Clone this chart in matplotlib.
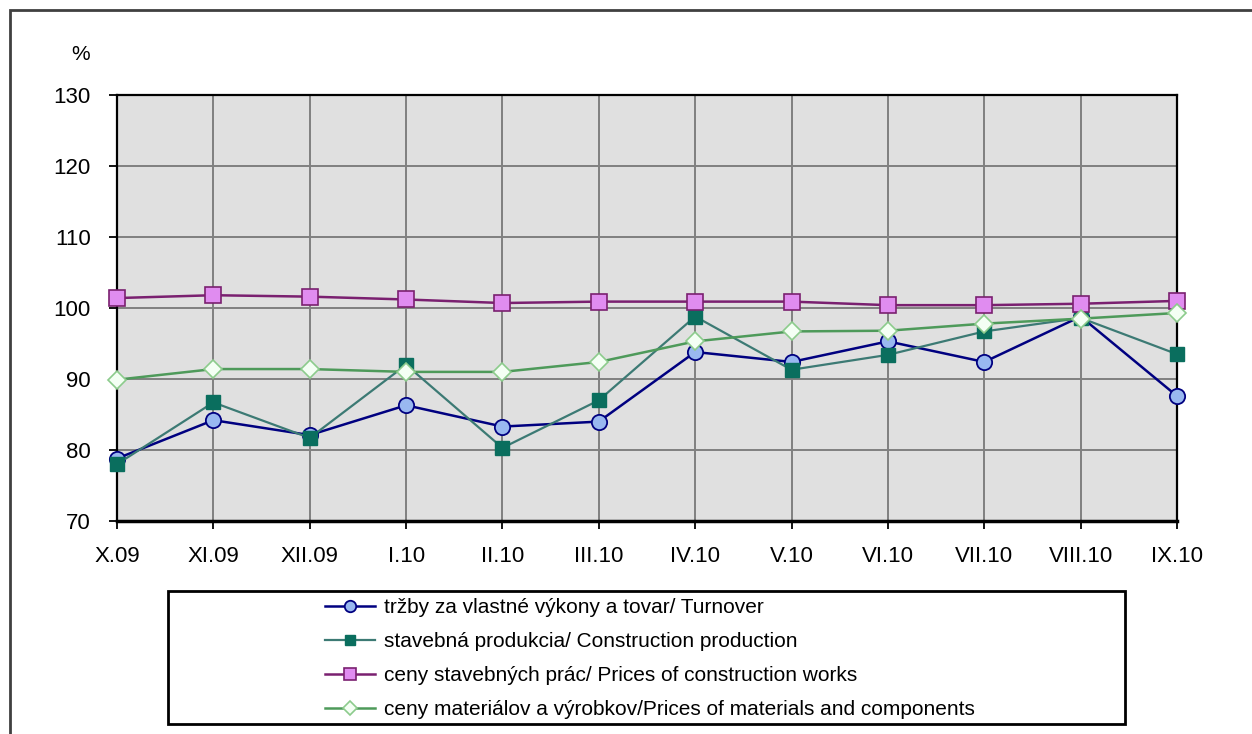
import matplotlib
matplotlib.use('Agg')
import matplotlib.pyplot as plt
from matplotlib.patches import Rectangle

plt.rcParams['font.family'] = ['Liberation Sans', 'DejaVu Sans']

# data
months = ['X.09', 'XI.09', 'XII.09', 'I.10', 'II.10', 'III.10',
          'IV.10', 'V.10', 'VI.10', 'VII.10', 'VIII.10', 'IX.10']
turnover = [78.8, 84.2, 82.1, 86.3, 83.3, 84.0, 93.8, 92.4, 95.3, 92.4, 98.8, 87.6]
construction = [78.0, 86.7, 81.7, 92.0, 80.3, 87.0, 98.8, 91.3, 93.4, 96.7, 98.6, 93.5]
prices_works = [101.4, 101.8, 101.6, 101.2, 100.7, 100.9, 100.9, 100.9, 100.4, 100.4, 100.6, 101.0]
prices_materials = [89.9, 91.4, 91.4, 91.0, 91.0, 92.4, 95.3, 96.7, 96.8, 97.8, 98.5, 99.3]

labels = ['tržby za vlastné výkony a tovar/ Turnover',
          'stavebná produkcia/ Construction production',
          'ceny stavebných prác/ Prices of construction works',
          'ceny materiálov a výrobkov/Prices of materials and components']

W, H = 1252, 734
fig = plt.figure(figsize=(W / 100, H / 100), dpi=100)

# outer chart frame (bottom and right run off the picture)
fig.patches.append(Rectangle((10 / W, -0.1), 1.2, 1.1 - 10 / H, transform=fig.transFigure,
                             fill=False, edgecolor='#404040', linewidth=2))

ax = fig.add_axes([117 / W, 1 - 521 / H, (1177 - 117) / W, (521 - 95) / H])
ax.set_facecolor('#E0E0E0')

x = list(range(len(months)))
ax.plot(x, turnover, color='#000080', lw=1.8, marker='o', ms=11,
        mfc='#99B8F0', mec='#000080', mew=1.3, clip_on=False, zorder=3, label=labels[0])
ax.plot(x, construction, color='#3C7A74', lw=1.6, marker='s', ms=10,
        mfc='#0A6E5E', mec='#0A6E5E', clip_on=False, zorder=3, label=labels[1])
ax.plot(x, prices_works, color='#7A2070', lw=1.8, marker='s', ms=12,
        mfc='#E08CF0', mec='#7A2070', mew=1.2, clip_on=False, zorder=3, label=labels[2])
ax.plot(x, prices_materials, color='#4E9A5A', lw=1.8, marker='D', ms=9,
        mfc='#F4FFF4', mec='#8CCB8C', mew=1.2, clip_on=False, zorder=3, label=labels[3])

ax.set_xlim(0, len(months) - 1)
ax.set_ylim(70, 130)
ax.set_yticks(range(70, 131, 10))
ax.set_xticks(x)
ax.set_xticklabels(months)
ax.grid(True, color='#808080', linewidth=1.4)
ax.set_axisbelow(True)
ax.tick_params(axis='both', direction='out', length=6, width=1.3, labelsize=16, colors='black')
ax.tick_params(axis='x', pad=12)
ax.tick_params(axis='y', pad=13)
for side in ['left', 'right', 'top']:
    ax.spines[side].set_color('black')
    ax.spines[side].set_linewidth(1.6)
ax.spines['bottom'].set_linewidth(2.5)

fig.text(81 / W, 1 - 55 / H, '%', fontsize=15, ha='center', va='center')

# legend box
fig.patches.append(Rectangle((168 / W, 1 - 724 / H), (1125 - 168) / W, (724 - 591) / H,
                             transform=fig.transFigure, fill=False,
                             edgecolor='black', linewidth=2))
handles, labs = ax.get_legend_handles_labels()
fig.legend(handles, labs, loc='upper left', bbox_to_anchor=(325 / W, 1 - 598 / H),
           frameon=False, fontsize=15, borderpad=0, borderaxespad=0, markerscale=0.75,
           handlelength=2.4, handletextpad=0.45, labelspacing=0.72)

fig.savefig('out.png', dpi=100)
